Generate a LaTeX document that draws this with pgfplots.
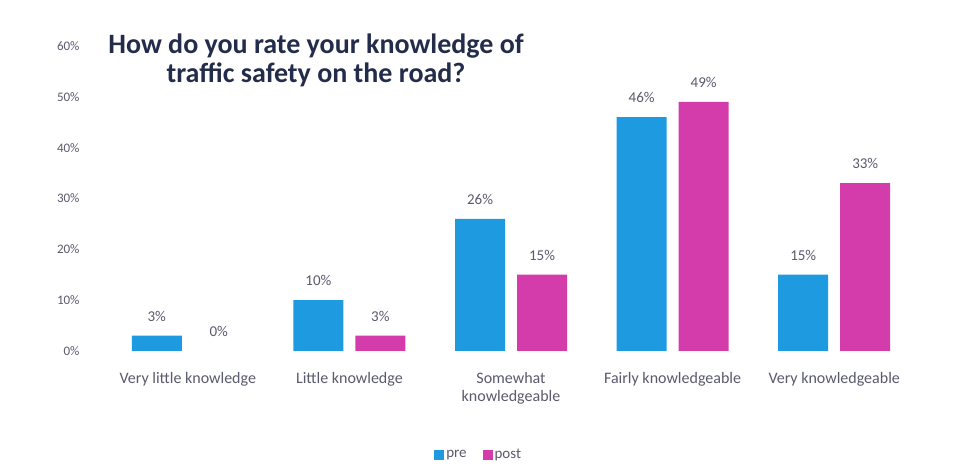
\documentclass[border=0pt]{standalone}
\usepackage{pgfplots}
\pgfplotsset{compat=1.18}
\usepackage{fontspec}
\setmainfont{Carlito}
\definecolor{cpre}{RGB}{30,155,224}
\definecolor{cpost}{RGB}{212,60,172}
\definecolor{ctitle}{RGB}{35,45,75}
\definecolor{ctick}{RGB}{90,90,110}
\begin{document}
\begin{tikzpicture}[x=1bp,y=1bp]
\path[use as bounding box, fill=white] (0,0) rectangle (956,475);
\begin{axis}[
  at={(107bp,124bp)}, anchor=south west,
  scale only axis, width=808bp, height=305bp,
  ybar, bar width=50bp,
  xmin=-0.5, xmax=4.5, ymin=0, ymax=60,
  axis lines=none,
  xtick={0,1,2,3,4},
  xticklabels={Very little knowledge, Little knowledge, {Somewhat\\knowledgeable}, Fairly knowledgeable, Very knowledgeable},
  xticklabel style={font=\fontsize{16bp}{18bp}\selectfont, color=ctick, align=center, anchor=north, yshift=-18bp},
  ytick={0,10,20,30,40,50,60},
  yticklabel={\pgfmathprintnumber{\tick}\%},
  yticklabel style={font=\fontsize{13bp}{14bp}\selectfont, color=ctick, anchor=east, xshift=-24bp},
  /pgf/number format/assume math mode=true,
  major tick length=0pt,
  hide x axis=false, hide y axis=false,
  x axis line style={draw=none}, y axis line style={draw=none},
  nodes near coords={\pgfmathprintnumber{\pgfplotspointmeta}\%},
  every node near coord/.append style={font=\fontsize{15bp}{17bp}\selectfont, color=ctick, anchor=south, yshift=11bp},
  legend style={at={(0.46,-0.34)}, anchor=center, draw=none, legend columns=2, font=\fontsize{15bp}{17bp}\selectfont, text=ctick, /tikz/every even column/.append style={column sep=14bp}},
  legend image code/.code={\fill[#1] (0bp,-5bp) rectangle (10bp,5bp);},
]
\addplot[fill=cpre, draw=none, bar shift=-31bp] coordinates {(0,3) (1,10) (2,26) (3,46) (4,15)};
\addplot[fill=cpost, draw=none, bar shift=31bp] coordinates {(1,3) (2,15) (3,49) (4,33)};
\addplot[fill=none, draw=none, bar shift=31bp, forget plot] coordinates {(0,0)};
\legend{pre, post}
\end{axis}
\node[font=\bfseries\fontsize{28bp}{29bp}\selectfont, color=ctitle, align=center] at (316bp,415bp) {How do you rate your knowledge of\\traffic safety on the road?};
\end{tikzpicture}
\end{document}
